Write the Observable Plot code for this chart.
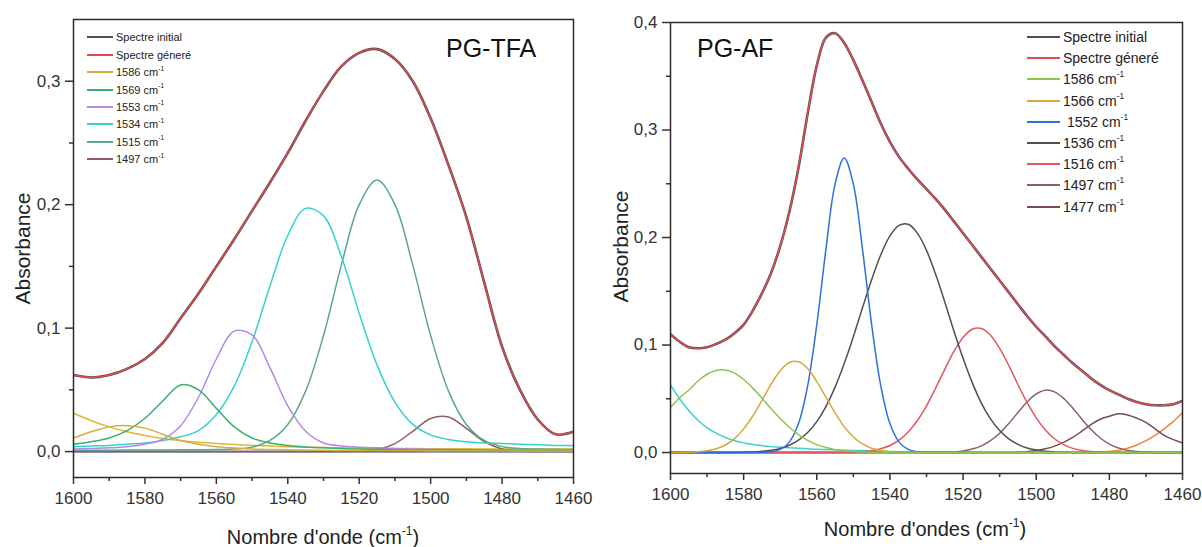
<!DOCTYPE html>
<html>
<head>
<meta charset="utf-8">
<script src="https://cdn.jsdelivr.net/npm/d3@7"></script>
<script src="https://cdn.jsdelivr.net/npm/@observablehq/plot@0.6"></script>
<style>
  html, body { margin: 0; padding: 0; background: #fff; }
  #wrap { position: relative; width: 1202px; height: 547px; overflow: hidden; font-family: "Liberation Sans", Arial, sans-serif; color: #222; }
  .panel { position: absolute; top: 0; }
  .txt { position: absolute; white-space: nowrap; line-height: 1; }
  .row { position: absolute; display: flex; align-items: center; white-space: nowrap; color: #222; }
  .sw { display: inline-block; height: 0; margin-right: 3px; }
  sup { font-size: 0.6em; position: relative; top: -0.15em; vertical-align: super; line-height: 0; }
</style>
</head>
<body>
<div id="wrap"></div>
<script>
// ---------------- DATA: PG-TFA (left) ----------------
const wnTFA = [1600,1595,1590,1585,1580,1575,1570,1565,1560,1555,1550,1545,1540,1535,1530,1525,1520,1515,1510,1505,1500,1495,1490,1485,1480,1475,1470,1465,1460];
const tfaInitial   = [0.062,0.060,0.062,0.067,0.075,0.088,0.108,0.128,0.150,0.172,0.195,0.218,0.242,0.268,0.292,0.312,0.323,0.326,0.318,0.300,0.270,0.232,0.190,0.137,0.085,0.050,0.026,0.014,0.016];
const tfaGenerated = [0.062,0.060,0.062,0.067,0.075,0.088,0.108,0.128,0.150,0.172,0.195,0.218,0.242,0.268,0.292,0.312,0.323,0.326,0.318,0.300,0.270,0.232,0.190,0.137,0.085,0.050,0.026,0.014,0.016];
const tfaHighBand  = [0.031,0.025,0.020,0.016,0.013,0.0105,0.0088,0.0075,0.0065,0.0057,0.005,0.0045,0.004,0.0036,0.0033,0.003,0.0028,0.0026,0.0025,0.0024,0.0023,0.0022,0.0022,0.0021,0.0021,0.002,0.002,0.002,0.002];
const tfa1586 = [0.011,0.016,0.020,0.021,0.019,0.014,0.009,0.006,0.004,0.0028,0.002,0.0017,0.0014,0.0012,0.001,0.0009,0.0008,0.0007,0.0006,0.0006,0.0005,0.0005,0.0005,0.0005,0.0004,0.0004,0.0004,0.0004,0.0004];
const tfa1569 = [0.006,0.008,0.011,0.017,0.027,0.041,0.054,0.050,0.035,0.020,0.011,0.007,0.005,0.0038,0.003,0.0025,0.002,0.0018,0.0015,0.0013,0.0012,0.001,0.001,0.0009,0.0008,0.0008,0.0007,0.0007,0.0006];
const tfa1553 = [0.002,0.0025,0.003,0.004,0.006,0.010,0.021,0.044,0.075,0.0976,0.0946,0.068,0.037,0.0165,0.007,0.0045,0.0035,0.003,0.0025,0.002,0.0018,0.0016,0.0015,0.0014,0.0013,0.0012,0.0011,0.001,0.001];
const tfa1534 = [0.004,0.0045,0.005,0.006,0.007,0.009,0.012,0.017,0.030,0.053,0.089,0.134,0.175,0.197,0.191,0.158,0.112,0.070,0.040,0.022,0.0135,0.0097,0.008,0.007,0.0065,0.006,0.0055,0.005,0.005];
const tfa1515 = [0.001,0.001,0.001,0.0012,0.0012,0.0013,0.0014,0.0015,0.0016,0.002,0.0036,0.009,0.022,0.049,0.094,0.151,0.200,0.220,0.200,0.151,0.094,0.049,0.022,0.009,0.004,0.0025,0.002,0.0018,0.0016];
const tfa1497 = [0,0,0,0,0,0,0,0,0,0,0,0,0,0,0,0,0.0003,0.0016,0.0065,0.0164,0.0268,0.028,0.0188,0.0081,0.0022,0.0004,0.0001,0,0];

// ---------------- DATA: PG-AF (right) ----------------
const wnAF = [1600,1597.5,1595,1592.5,1590,1587.5,1585,1582.5,1580,1577.5,1575,1572.5,1570,1567.5,1565,1562.5,1560,1557.5,1555,1552.5,1550,1547.5,1545,1542.5,1540,1537.5,1535,1532.5,1530,1527.5,1525,1522.5,1520,1517.5,1515,1512.5,1510,1507.5,1505,1502.5,1500,1497.5,1495,1492.5,1490,1487.5,1485,1482.5,1480,1477.5,1475,1472.5,1470,1467.5,1465,1462.5,1460];
const afInitial   = [0.110,0.103,0.098,0.097,0.098,0.101,0.105,0.111,0.119,0.132,0.148,0.167,0.192,0.224,0.265,0.315,0.360,0.386,0.390,0.381,0.365,0.346,0.326,0.306,0.289,0.275,0.264,0.254,0.245,0.236,0.226,0.215,0.204,0.193,0.182,0.171,0.160,0.149,0.138,0.127,0.117,0.108,0.099,0.091,0.083,0.076,0.069,0.063,0.058,0.054,0.050,0.047,0.045,0.044,0.044,0.045,0.048];
const afGenerated = [0.110,0.103,0.098,0.097,0.098,0.101,0.105,0.111,0.119,0.132,0.148,0.167,0.192,0.224,0.265,0.315,0.360,0.386,0.390,0.381,0.365,0.346,0.326,0.306,0.289,0.275,0.264,0.254,0.245,0.236,0.226,0.215,0.204,0.193,0.182,0.171,0.160,0.149,0.138,0.127,0.117,0.108,0.099,0.091,0.083,0.076,0.069,0.063,0.058,0.054,0.050,0.047,0.045,0.044,0.044,0.045,0.048];
const afHighBand = [0.063,0.050,0.039,0.030,0.023,0.018,0.014,0.011,0.009,0.0075,0.0065,0.0055,0.005,0.0045,0.004,0.0035,0.003,0.0028,0.0025,0.0022,0.002,0.0018,0.0015,0.0012,0.001,0.0008,0.0006,0.0005,0.0004,0.0003,0.0002,0.0001,0,0,0,0,0,0,0,0,0,0,0,0,0,0,0,0,0,0,0,0,0,0,0,0,0];
const af1586 = [0.042,0.051,0.058,0.0665,0.0728,0.0764,0.0767,0.0738,0.0679,0.0599,0.0506,0.0409,0.0317,0.0235,0.0167,0.0113,0.0074,0.0046,0.0027,0.0016,0.0009,0.0005,0.0002,0,0,0,0,0,0,0,0,0,0,0,0,0,0,0,0,0,0,0,0,0,0,0,0,0,0,0,0,0,0,0,0,0,0];
const af1566 = [0,0.0001,0.0003,0.0007,0.0016,0.0035,0.007,0.0129,0.022,0.034,0.0485,0.0635,0.076,0.0837,0.0844,0.0781,0.066,0.0516,0.0368,0.0241,0.0145,0.008,0.004,0.0019,0.0008,0.0003,0,0,0,0,0,0,0,0,0,0,0,0,0,0,0,0,0,0,0,0,0,0,0,0,0,0,0,0,0,0,0];
const af1552 = [0,0,0,0,0,0,0,0,0,0,0.0002,0.0007,0.0029,0.0097,0.0269,0.062,0.119,0.189,0.2497,0.274,0.2497,0.189,0.119,0.062,0.0269,0.0097,0.0029,0.0007,0.0002,0,0,0,0,0,0,0,0,0,0,0,0,0,0,0,0,0,0,0,0,0,0,0,0,0,0,0,0];
const af1536 = [0,0,0,0,0,0,0,0.0001,0.0003,0.0005,0.0011,0.0021,0.0038,0.0068,0.0115,0.0186,0.0288,0.0428,0.0608,0.0828,0.1078,0.1346,0.1608,0.1839,0.2015,0.2113,0.2123,0.2041,0.188,0.1658,0.140,0.1131,0.0876,0.065,0.046,0.0313,0.0204,0.0127,0.0076,0.0043,0.0024,0.0012,0.0006,0.0003,0.0001,0,0,0,0,0,0,0,0,0,0,0,0];
const af1516 = [0,0,0,0,0,0,0,0,0,0,0,0,0,0,0,0,0,0,0,0.0002,0.0004,0.0008,0.0017,0.0035,0.0065,0.0115,0.0191,0.0298,0.0435,0.0599,0.0774,0.094,0.1071,0.1147,0.1154,0.1091,0.0969,0.0808,0.0633,0.0466,0.0323,0.021,0.0128,0.0073,0.0039,0.002,0.001,0.0004,0.0002,0,0,0,0,0,0,0,0];
const af1497 = [0,0,0,0,0,0,0,0,0,0,0,0,0,0,0,0,0,0,0,0,0,0,0,0,0,0,0,0,0,0,0.0002,0.0006,0.0015,0.0032,0.0062,0.011,0.018,0.027,0.0372,0.047,0.0545,0.058,0.0564,0.0504,0.0413,0.031,0.0214,0.0135,0.0078,0.0042,0.002,0.0009,0.0004,0.0001,0,0,0];
const af1477 = [0,0,0,0,0,0,0,0,0,0,0,0,0,0,0,0,0,0,0,0,0,0,0,0,0,0,0,0,0,0,0,0,0,0,0,0,0,0,0.0001,0.0008,0.0018,0.0035,0.006,0.0095,0.014,0.02,0.026,0.031,0.0338,0.036,0.035,0.032,0.028,0.022,0.016,0.012,0.009];
const afLowBand = [0,0,0,0,0,0,0,0,0,0,0,0,0,0,0,0,0,0,0,0,0,0,0,0,0,0,0,0,0,0,0,0,0,0,0,0,0,0,0,0,0,0,0,0,0,0,0,0.0005,0.001,0.002,0.004,0.007,0.011,0.016,0.022,0.029,0.037];

// ---------------- TICKS & LABELS ----------------
const xTicks = [1600,1580,1560,1540,1520,1500,1480,1460];
const xMinorTicks = [1590,1570,1550,1530,1510,1490,1470];
const yTicksTFA = [0,0.1,0.2,0.3];
const yMinorTFA = [0.05,0.15,0.25];
const yTicksAF = [0,0.1,0.2,0.3,0.4];
const yMinorAF = [0.05,0.15,0.25,0.35];
const tfaNames = ["Spectre initial","Spectre géneré","1586","1569","1553","1534","1515","1497"];
const afNames  = ["Spectre initial","Spectre géneré","1586","1566"," 1552","1536","1516","1497","1477"];

// ---------------- STYLES ----------------
const tfaColors = ["#4f4f4f","#e5484f","#d2ae3c","#3cae6e","#b489e6","#34d2cf","#5aa985","#8d5d5f"];
const tfaExtraColor = "#dcb53a";
const afColors  = ["#4f4f4f","#e84a55","#8dc64a","#d6a83a","#2f6fde","#505050","#e8545f","#8a6262","#7b4a4c"];
const afExtra = { high: "#3cd0d0", low: "#f08236" };

const fmt = d => d.toFixed(1).replace(".", ",");
const FONT = '"Liberation Sans", Arial, sans-serif';

function toRows(wn, vals) { return vals.map((v, i) => ({ w: wn[i], v })); }

function panel({wn, series, extras, yDomain, yTicks, yMinor, width, height, margins, baseColor}) {
  const marks = [
    Plot.ruleY([0], { stroke: baseColor, strokeWidth: 1.6 })
  ];
  extras.forEach(e => marks.push(Plot.line(toRows(wn, e.values), { x: "w", y: "v", stroke: e.color, strokeWidth: 1.5, curve: "catmull-rom" })));
  for (let i = series.length - 1; i >= 2; i--) {
    marks.push(Plot.line(toRows(wn, series[i].values), { x: "w", y: "v", stroke: series[i].color, strokeWidth: 1.5, curve: "catmull-rom" }));
  }
  marks.push(Plot.line(toRows(wn, series[0].values), { x: "w", y: "v", stroke: series[0].color, strokeWidth: 2.6, curve: "catmull-rom" }));
  marks.push(Plot.line(toRows(wn, series[1].values), { x: "w", y: "v", stroke: series[1].color, strokeWidth: 1.4, curve: "catmull-rom" }));
  marks.push(Plot.frame({ stroke: "#2b2b2b", strokeWidth: 1.5 }));
  marks.push(Plot.axisX({ ticks: xTicks, tickSize: 7, tickPadding: 7, tickFormat: d => String(d), label: null, strokeWidth: 1.5, fontSize: 17, fill: "#333" }));
  marks.push(Plot.axisX({ ticks: xMinorTicks, tickSize: 4, tickFormat: () => "", label: null, strokeWidth: 1.5 }));
  marks.push(Plot.axisY({ ticks: yTicks, tickSize: 8, tickPadding: 5, tickFormat: fmt, label: null, strokeWidth: 1.5, fontSize: 17, fill: "#333" }));
  marks.push(Plot.axisY({ ticks: yMinor, tickSize: 4, tickFormat: () => "", label: null, strokeWidth: 1.5 }));
  return Plot.plot({
    width, height,
    marginLeft: margins[0], marginRight: margins[1], marginTop: margins[2], marginBottom: margins[3],
    x: { domain: [1600, 1460] },
    y: { domain: yDomain },
    clip: true,
    style: { fontFamily: FONT, fontSize: "17px", color: "#333", background: "transparent", overflow: "visible" },
    marks
  });
}

const tfaValues = [tfaInitial, tfaGenerated, tfa1586, tfa1569, tfa1553, tfa1534, tfa1515, tfa1497];
const tfaSeries = tfaNames.map((n, i) => ({ name: n, values: tfaValues[i], color: tfaColors[i] }));
const afValues = [afInitial, afGenerated, af1586, af1566, af1552, af1536, af1516, af1497, af1477];
const afSeries = afNames.map((n, i) => ({ name: n, values: afValues[i], color: afColors[i] }));

const wrap = document.getElementById("wrap");

const left = panel({
  wn: wnTFA, series: tfaSeries, extras: [{ values: tfaHighBand, color: tfaExtraColor }],
  yDomain: [-0.021, 0.350], yTicks: yTicksTFA, yMinor: yMinorTFA,
  width: 600, height: 547, margins: [73, 27, 19, 70], baseColor: "#3c426e"
});
left.classList.add("panel"); left.style.left = "0px";
wrap.appendChild(left);

const right = panel({
  wn: wnAF, series: afSeries, extras: [{ values: afHighBand, color: afExtra.high }, { values: afLowBand, color: afExtra.low }],
  yDomain: [-0.0195, 0.4], yTicks: yTicksAF, yMinor: yMinorAF,
  width: 602, height: 547, margins: [70, 20, 22, 74], baseColor: "#e8505a"
});
right.classList.add("panel"); right.style.left = "600px";
wrap.appendChild(right);

// ---------------- TEXT: titles and axis labels ----------------
function addText(html, css) {
  const d = document.createElement("div");
  d.className = "txt";
  d.innerHTML = html;
  Object.assign(d.style, css);
  wrap.appendChild(d);
  return d;
}
const label = n => /^\s*\d/.test(n) ? `${n.replace(/ /g, "&nbsp;")} cm<sup>-1</sup>` : n;

addText("PG-TFA", { left: "446px", top: "36px", fontSize: "25px", color: "#111" });
addText("PG-AF", { left: "697px", top: "36px", fontSize: "25px", color: "#111" });

addText("Absorbance", { left: "-78px", top: "238px", width: "200px", textAlign: "center", fontSize: "21px", transform: "rotate(-90deg)", color: "#222" });
addText("Absorbance", { left: "520px", top: "236px", width: "200px", textAlign: "center", fontSize: "21px", transform: "rotate(-90deg)", color: "#222" });
addText("Nombre d'onde (cm<sup>-1</sup>)", { left: "173px", top: "527px", width: "300px", textAlign: "center", fontSize: "20px", color: "#222" });
addText("Nombre d'ondes (cm<sup>-1</sup>)", { left: "775px", top: "519px", width: "300px", textAlign: "center", fontSize: "20px", color: "#222" });

// ---------------- LEGENDS ----------------
function legend(series, x0, y0, step, swW, fs, lw) {
  series.forEach((s, i) => {
    const r = document.createElement("div");
    r.className = "row";
    r.style.left = x0 + "px";
    r.style.top = (y0 + i * step - fs * 0.6) + "px";
    r.style.fontSize = fs + "px";
    r.style.height = (fs * 1.2) + "px";
    r.innerHTML = `<span class="sw" style="width:${swW}px;border-top:${lw}px solid ${s.color}"></span><span>${label(s.name)}</span>`;
    wrap.appendChild(r);
  });
}
legend(tfaSeries, 87, 37.5, 17.4, 26, 11, 2);
legend(afSeries, 1027, 37, 21.2, 33, 14, 2);
</script>
</body>
</html>
